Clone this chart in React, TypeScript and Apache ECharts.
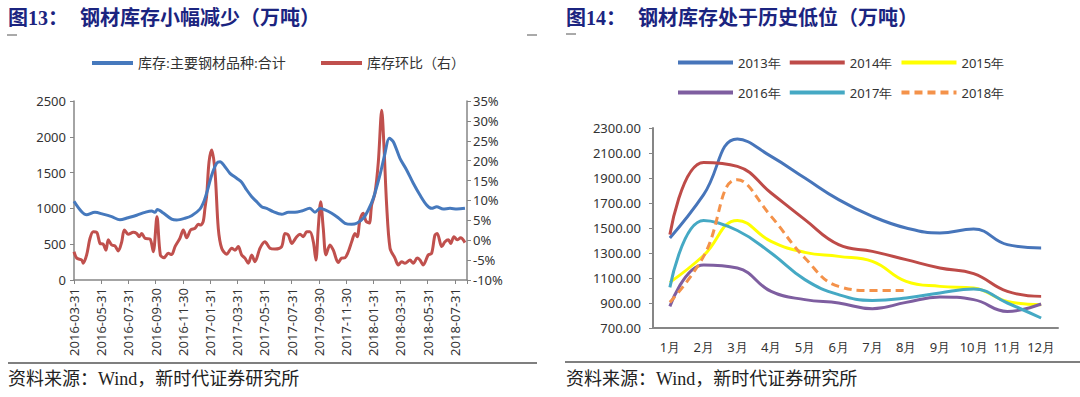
import React, { useEffect, useRef } from 'react';
import * as echarts from 'echarts';

// ---------- Figure 13 data ----------
const xTickLabels = [
  '2016-03-31', '2016-05-31', '2016-07-31', '2016-09-30', '2016-11-30',
  '2017-01-31', '2017-03-31', '2017-05-31', '2017-07-31', '2017-09-30',
  '2017-11-30', '2018-01-31', '2018-03-31', '2018-05-31', '2018-07-31',
];
// x: months elapsed since 2016-03-31
const stockMonths = [
  0.0, 0.93, 1.54, 2.13, 2.77, 3.38, 3.97, 4.61, 5.22, 5.71, 5.96, 6.13, 6.57, 7.18, 7.55,
  8.16, 8.65, 9.26, 9.56, 9.78, 10.13, 10.49, 10.74, 11.1, 11.47, 11.96, 12.33, 12.7, 13.07,
  13.43, 13.8, 14.17, 14.65, 15.27, 15.76, 16.25, 16.74, 17.35, 17.72, 18.09, 18.46, 18.95,
  19.43, 19.93, 20.42, 20.79, 21.27, 21.64, 22.01, 22.5, 22.87, 23.18, 23.48, 23.97, 24.46,
  24.95, 25.44, 25.93, 26.3, 26.67, 27.15, 27.65, 28.16, 28.75,
];
const stockValues = [
  1100, 910, 945, 920, 885, 840, 870, 905, 945, 965, 945, 985, 935, 850, 838,
  862, 898, 990, 1100, 1230, 1467, 1630, 1653, 1583, 1490, 1421, 1365, 1257, 1164,
  1094, 1024, 1001, 954, 918, 946, 946, 964, 1001, 946, 1001, 978, 932,
  870, 792, 778, 792, 862, 978, 1141, 1467, 1770, 1979, 1932, 1700, 1537,
  1351, 1187, 1048, 1001, 1024, 992, 1001, 992, 1001,
];
const ratioMonths = [
  0.0, 0.2, 0.57, 0.68, 0.93, 1.18, 1.42, 1.67, 1.91, 2.15, 2.35, 2.52, 2.77, 3.01, 3.26,
  3.51, 3.7, 3.99, 4.36, 4.61, 4.8, 4.98, 5.22, 5.59, 5.83, 6.1, 6.35, 6.62, 6.93, 7.18,
  7.43, 7.79, 8.04, 8.29, 8.58, 8.9, 9.14, 9.3, 9.5, 9.63, 9.76, 9.93, 10.13, 10.37, 10.61,
  10.86, 11.23, 11.6, 11.84, 12.08, 12.33, 12.57, 12.82, 13.07, 13.31, 13.68, 14.04, 14.41,
  14.78, 15.27, 15.51, 15.76, 16.01, 16.38, 16.62, 16.86, 17.11, 17.35, 17.6, 17.79, 17.96,
  18.14, 18.33, 18.53, 18.82, 19.07, 19.43, 19.68, 19.93, 20.17, 20.42, 20.66, 20.83, 21.03,
  21.27, 21.47, 21.71, 21.89, 22.13, 22.38, 22.63, 22.79, 22.99, 23.24, 23.6, 23.85, 24.1,
  24.34, 24.71, 24.95, 25.24, 25.44, 25.68, 26.05, 26.3, 26.54, 26.71, 27.04, 27.28, 27.53,
  27.7, 27.94, 28.18, 28.43, 28.75,
];
const ratioValues = [
  -2.9, -4.5, -5.0, -5.8, -3.7, 0.5, 2.1, 2.0, -0.8, -1.0, -2.5, 0.1, -1.2, -1.4, -2.7,
  -0.4, 2.6, 1.5, 2.0, 1.7, 0.9, 1.7, 0.5, 0.3, -2.9, 5.9, -3.7, -4.4, -3.3, -3.6,
  -1.6, 0.5, 2.6, 0.6, 2.6, 3.0, 4.0, 3.8, 4.7, 8.0, 11.4, 19.7, 22.7, 17.2, 3.0,
  -2.0, -3.5, -2.0, -2.5, -1.6, -3.7, -4.5, -5.8, -3.7, -5.4, -2.0, -0.4, -2.0,
  -2.2, -1.6, 1.7, 1.3, -0.8, 0.9, 1.5, 0.9, 2.1, 2.1, -0.4, -5.0, 3.0,
  9.7, 3.0, -3.7, -1.2, -2.5, -5.6, -4.5, -4.4, -2.9, -0.4, 1.7, 0.9, 5.1,
  6.8, 4.8, 4.3, 8.9, 11.8, 19.7, 32.7, 23.9, 8.9, -2.0, -4.5, -6.2, -5.4,
  -5.8, -5.0, -5.8, -4.5, -5.0, -6.2, -3.7, -3.3, 1.3, 1.7, -1.6, -0.4, 0.1,
  -0.8, 0.9, 0.1, 0.6, -0.6,
];
const stockName = '库存:主要钢材品种:合计';
const ratioName = '库存环比（右）';

// ---------- Figure 14 data ----------
const monthLabels = ['1月', '2月', '3月', '4月', '5月', '6月', '7月', '8月', '9月', '10月', '11月', '12月'];
const yearNames = ['2013年', '2014年', '2015年', '2016年', '2017年', '2018年'];
const y2013 = [1420, 1767, 2212, 2073, 1900, 1727, 1593, 1500, 1460, 1492, 1367, 1340];
const y2014 = [1447, 2025, 1993, 1780, 1567, 1367, 1313, 1247, 1180, 1135, 993, 953];
const y2015 = [1065, 1280, 1561, 1393, 1305, 1273, 1233, 1073, 1033, 1020, 913, 887];
const y2016 = [873, 1205, 1180, 993, 927, 900, 855, 905, 948, 927, 833, 892];
const y2017 = [1025, 1560, 1480, 1300, 1087, 967, 921, 940, 980, 1012, 900, 780];
const y2018 = [905, 1273, 1887, 1593, 1260, 1033, 1000, 1000];
const yearValues = [y2013, y2014, y2015, y2016, y2017, y2018];
const yearColors = ['#4775BA', '#BE4B48', '#FFFF00', '#7E5EA0', '#45A9C4', '#F4924A'];
const rightBase = 700;

const axisColor = '#868686';
const numFont = "'Noto Sans', sans-serif";
const cjkFont = "'Liberation Serif', 'Noto Sans CJK SC', serif";
const titleColor = '#1B2480';

function buildOption() {
  const labelStyle = { fontFamily: numFont, fontSize: 13, color: '#333' };
  const series: any[] = [
    {
      name: stockName, type: 'line', xAxisIndex: 0, yAxisIndex: 0, symbol: 'none',
      smooth: 0.3, lineStyle: { width: 3, color: '#4679BD' }, itemStyle: { color: '#4679BD' },
      data: stockMonths.map((m, i) => [m, stockValues[i]]), z: 3,
    },
    {
      name: ratioName, type: 'line', xAxisIndex: 0, yAxisIndex: 1, symbol: 'none',
      smooth: 0.3, lineStyle: { width: 3, color: '#C0504D' }, itemStyle: { color: '#C0504D' },
      data: ratioMonths.map((m, i) => [m, ratioValues[i]]), z: 2,
    },
  ];
  yearNames.forEach((name, k) => {
    series.push({
      name, type: 'line', xAxisIndex: 1, yAxisIndex: 2, symbol: 'none', smooth: 0.45,
      lineStyle: { width: 3, color: yearColors[k], type: k === 5 ? [8, 5] : 'solid' },
      itemStyle: { color: yearColors[k] },
      data: yearValues[k].map((v) => v - rightBase),
    });
  });

  const legendText = { fontFamily: numFont, fontSize: 13, color: '#333' };
  const legendCommon = {
    orient: 'horizontal', itemHeight: 12, lineStyle: { width: 4 },
    itemStyle: { opacity: 0 },
  };

  return {
    animation: false,
    backgroundColor: '#ffffff',
    legend: [
      { ...legendCommon, data: [stockName], left: 85, top: 51, itemWidth: 41, itemGap: 0,
        textStyle: { fontFamily: cjkFont, fontSize: 14, color: '#333' } },
      { ...legendCommon, data: [ratioName], left: 314, top: 51, itemWidth: 41, itemGap: 0,
        textStyle: { fontFamily: cjkFont, fontSize: 14, color: '#333' } },
      { ...legendCommon, data: yearNames.slice(0, 3), left: 671, top: 51, itemWidth: 55, itemGap: 7,
        textStyle: legendText },
      { ...legendCommon, data: yearNames.slice(3), left: 671, top: 81, itemWidth: 55, itemGap: 7,
        textStyle: legendText },
    ],
    grid: [
      { left: 74, top: 101, width: 393, height: 179 },
      { left: 653, top: 128, width: 405, height: 200 },
    ],
    xAxis: [
      {
        type: 'value', gridIndex: 0, min: 0, max: 28.9, interval: 2,
        splitLine: { show: false },
        axisLine: { show: true, onZero: false, lineStyle: { color: axisColor, width: 1.5 } },
        axisTick: { show: true, length: 4, lineStyle: { color: axisColor } },
        axisLabel: {
          ...labelStyle, rotate: 90, margin: 8,
          formatter: (v: number) => {
            const i = Math.round(v / 2);
            return Math.abs(v - i * 2) < 1e-6 && xTickLabels[i] ? xTickLabels[i] : '';
          },
        },
      },
      {
        type: 'category', gridIndex: 1, data: monthLabels, boundaryGap: true,
        axisTick: { show: false },
        axisLine: { show: true, onZero: false, lineStyle: { color: axisColor, width: 2 } },
        axisLabel: { ...labelStyle, margin: 12, interval: 0 },
      },
    ],
    yAxis: [
      {
        type: 'value', gridIndex: 0, min: 0, max: 2500, interval: 500,
        splitLine: { show: false },
        axisLine: { show: true, onZero: false, lineStyle: { color: axisColor, width: 1.5 } },
        axisTick: { show: true, length: 4, lineStyle: { color: axisColor } },
        axisLabel: { ...labelStyle, margin: 8, formatter: (v: number) => String(v) },
      },
      {
        type: 'value', gridIndex: 0, position: 'right', min: -10, max: 35, interval: 5,
        splitLine: { show: false },
        axisLine: { show: true, onZero: false, lineStyle: { color: axisColor, width: 1.5 } },
        axisTick: { show: true, length: 4, lineStyle: { color: axisColor } },
        axisLabel: { ...labelStyle, margin: 6, formatter: (v: number) => `${v}%` },
      },
      {
        type: 'value', gridIndex: 1, min: 0, max: 1600, interval: 200,
        splitLine: { show: false },
        axisLine: { show: true, onZero: false, lineStyle: { color: axisColor, width: 2 } },
        axisTick: { show: true, length: 4, lineStyle: { color: axisColor } },
        axisLabel: { ...labelStyle, margin: 12, formatter: (v: number) => (v + rightBase).toFixed(2) },
      },
    ],
    graphic: [
      { type: 'text', left: 8, top: 8, style: { text: '图13：', font: `bold 20px ${cjkFont}`, fill: titleColor } },
      { type: 'text', left: 80, top: 8, style: { text: '钢材库存小幅减少（万吨）', font: `bold 20px ${cjkFont}`, fill: titleColor } },
      { type: 'text', left: 566, top: 8, style: { text: '图14：', font: `bold 20px ${cjkFont}`, fill: titleColor } },
      { type: 'text', left: 638, top: 8, style: { text: '钢材库存处于历史低位（万吨）', font: `bold 20px ${cjkFont}`, fill: titleColor } },
      { type: 'line', shape: { x1: 7, y1: 35, x2: 17, y2: 35 }, style: { stroke: '#555', lineWidth: 1 } },
      { type: 'line', shape: { x1: 527, y1: 35, x2: 537, y2: 35 }, style: { stroke: '#555', lineWidth: 1 } },
      { type: 'line', shape: { x1: 566, y1: 34, x2: 576, y2: 34 }, style: { stroke: '#555', lineWidth: 1 } },
      { type: 'line', shape: { x1: 8, y1: 363, x2: 537, y2: 363 }, style: { stroke: '#7F7F7F', lineWidth: 2 } },
      { type: 'line', shape: { x1: 565, y1: 362, x2: 1080, y2: 362 }, style: { stroke: '#7F7F7F', lineWidth: 2 } },
      { type: 'text', left: 8, top: 370, style: { text: '资料来源：Wind，新时代证券研究所', font: `18px ${cjkFont}`, fill: '#222' } },
      { type: 'text', left: 566, top: 370, style: { text: '资料来源：Wind，新时代证券研究所', font: `18px ${cjkFont}`, fill: '#222' } },
    ],
    series,
  };
}

export default function App() {
  const ref = useRef<HTMLDivElement>(null);
  useEffect(() => {
    document.body.style.margin = '0';
    const chart = echarts.init(ref.current!, null, { renderer: 'svg' });
    chart.setOption(buildOption() as any);
    return () => chart.dispose();
  }, []);
  return (
    <div
      ref={ref}
      style={{ position: 'absolute', left: 0, top: 0, width: 1080, height: 397, background: '#fff' }}
    />
  );
}
